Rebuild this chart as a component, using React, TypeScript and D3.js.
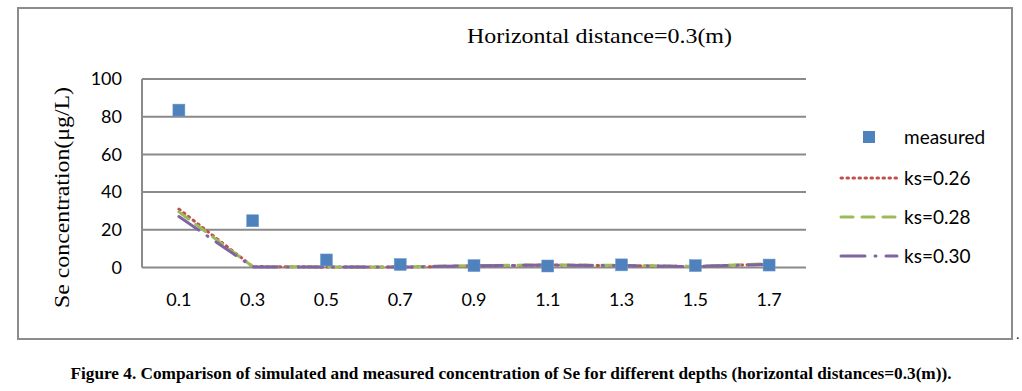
// Se concentration vs depth - simulated (ks) and measured, horizontal distance 0.3 m
import React, { useEffect, useRef } from 'react';
import * as d3 from 'd3';

const depths = ['0.1', '0.3', '0.5', '0.7', '0.9', '1.1', '1.3', '1.5', '1.7'];
const measured = [83.5, 24.8, 4, 1.6, 1, 0.8, 1.4, 1, 1.3];
const ks026 = [31, 0.5, 0.3, 0.2, 0.8, 1.3, 1, 0.5, 1.8];
const ks028 = [29.5, 0.5, 0.3, 0.3, 1, 1.4, 1.1, 0.6, 2];
const ks030 = [27, 0.3, 0.2, 0.2, 0.9, 1.3, 1, 0.5, 1.7];
const yTicks = [0, 20, 40, 60, 80, 100];

const W = 1022;
const H = 391;
const SERIF = "'Times New Roman', 'Liberation Serif', Times, serif";
const SANS = "Lato, 'Open Sans', sans-serif";

export default function App() {
  const svgRef = useRef<SVGSVGElement>(null);

  useEffect(() => {
    if (!svgRef.current) return;
    const svg = d3.select(svgRef.current);
    svg.selectAll('*').remove();

    const left = 142, right = 806, top = 79, bottom = 267.5;
    const x = d3.scaleBand().domain(depths).range([left, right]);
    const y = d3.scaleLinear().domain([0, 100]).range([bottom, top]);
    const cx = (d: string) => (x(d) as number) + x.bandwidth() / 2;

    // outer frame
    svg.append('rect')
      .attr('x', 18).attr('y', 8).attr('width', 994).attr('height', 331)
      .attr('fill', 'white').attr('stroke', '#8c8c8c').attr('stroke-width', 2);
    svg.append('text')
      .attr('x', 1016).attr('y', 339)
      .style('font-family', SERIF).attr('font-size', 14)
      .text('.');

    // title
    svg.append('text')
      .attr('x', 467).attr('y', 43)
      .style('font-family', SERIF).attr('font-size', 22)
      .attr('fill', '#000')
      .attr('textLength', 265)
      .attr('lengthAdjust', 'spacingAndGlyphs')
      .text('Horizontal distance=0.3(m)');

    // gridlines
    svg.append('g').selectAll('line')
      .data(yTicks)
      .enter().append('line')
      .attr('x1', left).attr('x2', right)
      .attr('y1', d => y(d)).attr('y2', d => y(d))
      .attr('stroke', '#8a8a8a').attr('stroke-width', 2);

    svg.append('line')
      .attr('x1', left).attr('x2', left)
      .attr('y1', top).attr('y2', bottom)
      .attr('stroke', '#8a8a8a').attr('stroke-width', 2);

    // y tick labels
    svg.append('g').selectAll('text')
      .data(yTicks)
      .enter().append('text')
      .attr('x', 122).attr('y', d => y(d))
      .attr('dy', '0.35em')
      .attr('text-anchor', 'end')
      .style('font-family', SANS).attr('font-size', 18)
      .attr('fill', '#000')
      .text(d => d);

    // x tick labels
    svg.append('g').selectAll('text')
      .data(depths)
      .enter().append('text')
      .attr('x', d => cx(d)).attr('y', 306)
      .attr('text-anchor', 'middle')
      .style('font-family', SANS).attr('font-size', 18)
      .attr('fill', '#000')
      .text(d => d);

    // y label
    svg.append('text')
      .attr('transform', `translate(69,197.5) rotate(-90)`)
      .attr('text-anchor', 'middle')
      .style('font-family', SERIF).attr('font-size', 22)
      .attr('fill', '#000')
      .attr('textLength', 221)
      .attr('lengthAdjust', 'spacingAndGlyphs')
      .text('Se concentration(μg/L)');

    const series = [
      { name: 'ks=0.26', values: ks026, color: '#C0504D', dash: '1.5,4.5', cap: 'round' },
      { name: 'ks=0.28', values: ks028, color: '#9BBB59', dash: '12,9', cap: 'round' },
      { name: 'ks=0.30', values: ks030, color: '#8064A2', dash: '24,10,1,10', cap: 'round' }
    ];

    const line = d3.line<number>()
      .x((d, i) => cx(depths[i]))
      .y(d => y(d));

    series.forEach(s => {
      svg.append('path')
        .datum(s.values)
        .attr('d', line)
        .attr('fill', 'none')
        .attr('stroke', s.color)
        .attr('stroke-width', 3)
        .attr('stroke-linecap', s.cap)
        .attr('stroke-dasharray', s.dash);
    });

    // measured squares
    svg.append('g').selectAll('rect')
      .data(measured)
      .enter().append('rect')
      .attr('x', (d, i) => cx(depths[i]) - 6)
      .attr('y', d => y(d) - 6)
      .attr('width', 12).attr('height', 12)
      .attr('fill', '#4F81BD')
      .attr('stroke', '#6f9bd0').attr('stroke-width', 0.5);

    // legend
    const lg = svg.append('g');
    lg.append('rect')
      .attr('x', 863).attr('y', 131).attr('width', 12).attr('height', 12)
      .attr('fill', '#4F81BD');
    lg.append('text')
      .attr('x', 904).attr('y', 137).attr('dy', '0.35em')
      .style('font-family', SANS).attr('font-size', 19)
      .text('measured');

    series.forEach((s, i) => {
      const ly = 178 + i * 39;
      lg.append('line')
        .attr('x1', 841).attr('x2', 897)
        .attr('y1', ly).attr('y2', ly)
        .attr('stroke', s.color).attr('stroke-width', 3)
        .attr('stroke-linecap', s.cap)
        .attr('stroke-dasharray', s.dash);
      lg.append('text')
        .attr('x', 904).attr('y', ly).attr('dy', '0.35em')
        .style('font-family', SANS).attr('font-size', 19)
        .text(s.name);
    });

    // caption
    svg.append('text')
      .attr('x', 511).attr('y', 379)
      .attr('text-anchor', 'middle')
      .style('font-family', SERIF).attr('font-size', 17)
      .attr('font-weight', 'bold')
      .attr('textLength', 881)
      .attr('lengthAdjust', 'spacingAndGlyphs')
      .text('Figure 4. Comparison of simulated and measured concentration of Se for different depths (horizontal distances=0.3(m)).');
  }, []);

  return (
    <svg
      ref={svgRef}
      width={W}
      height={H}
      style={{ position: 'absolute', left: 0, top: 0, display: 'block', background: 'white' }}
    />
  );
}
